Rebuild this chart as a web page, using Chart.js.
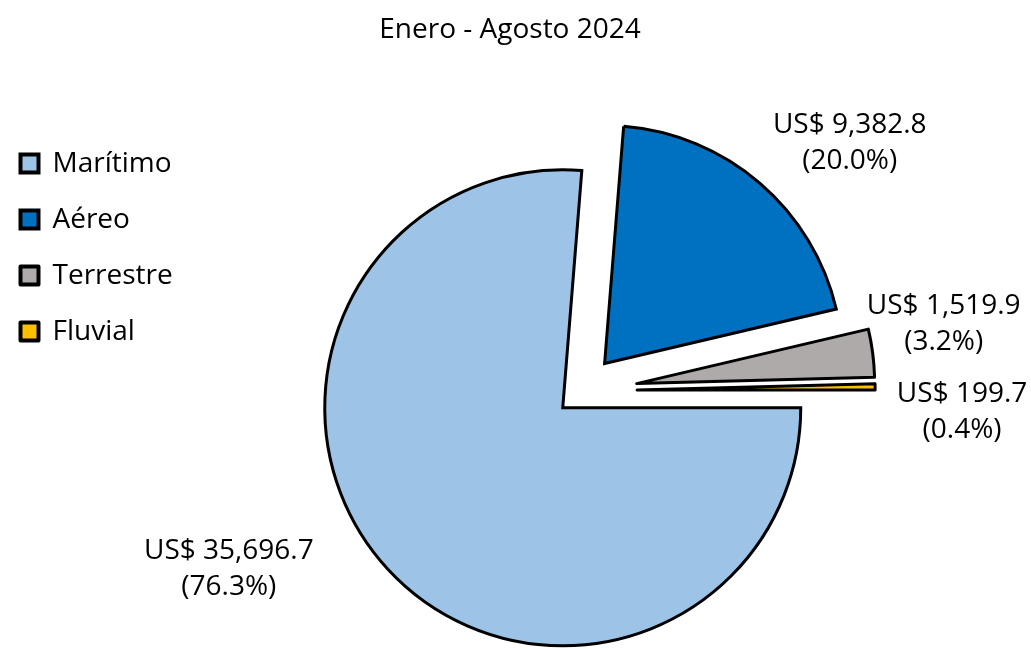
<!DOCTYPE html>
<html>
<head>
<meta charset="utf-8">
<script src="https://cdn.jsdelivr.net/npm/chart.js@4.4.1/dist/chart.umd.min.js"></script>
<style>
  html, body { margin: 0; padding: 0; background: #fff; }
  #marco { width: 1031px; height: 649px; overflow: hidden; }
  #wrap { width: 1031px; height: 660px; }
</style>
</head>
<body>
<div id="marco"><div id="wrap"><canvas id="pieChart"></canvas></div></div>
<script>
// datos (millones de US$), enero - agosto 2024
const modos = ['Marítimo', 'Aéreo', 'Terrestre', 'Fluvial'];
const valores = [35696.7, 9382.8, 1519.9, 199.7];
const colores = ['#9DC3E6', '#0070C0', '#AEAAAA', '#FFC000'];

// separación de cada porción (px) y ajuste de la etiqueta respecto al borde
const separacion = [25, 36, 56, 56];
const ajusteEtiqueta = [[-159, 0], [90, -40], [71, -29], [87, 25]];

const total = valores.reduce((a, b) => a + b, 0);

Chart.defaults.font.family = "'Open Sans', sans-serif";
Chart.defaults.color = '#000';

// mueve cada porción hacia afuera sin cambiar su radio
const explotar = {
    id: 'explotar',
    afterDatasetUpdate(chart, args) {
        args.meta.data.forEach((arc, i) => {
            const mid = (arc.startAngle + arc.endAngle) / 2;
            arc.x += Math.cos(mid) * separacion[i];
            arc.y += Math.sin(mid) * separacion[i];
        });
    }
};

// etiquetas "US$ valor (porcentaje)"
const etiquetas = {
    id: 'etiquetas',
    afterDatasetsDraw(chart) {
        const ctx = chart.ctx;
        const meta = chart.getDatasetMeta(0);
        ctx.save();
        ctx.font = "28px 'Open Sans', sans-serif";
        ctx.fillStyle = '#000';
        ctx.textAlign = 'center';
        ctx.textBaseline = 'middle';
        meta.data.forEach((arc, i) => {
            const mid = (arc.startAngle + arc.endAngle) / 2;
            const x = arc.x + Math.cos(mid) * arc.outerRadius + ajusteEtiqueta[i][0];
            const y = arc.y + Math.sin(mid) * arc.outerRadius + ajusteEtiqueta[i][1];
            const monto = 'US$ ' + valores[i].toLocaleString('en-US', {minimumFractionDigits: 1, maximumFractionDigits: 1});
            const pct = '(' + (valores[i] / total * 100).toFixed(1) + '%)';
            ctx.fillText(monto, x, y - 18);
            ctx.fillText(pct, x, y + 18);
        });
        ctx.restore();
    }
};

const etiquetasLeyenda = Chart.overrides.pie.plugins.legend.labels.generateLabels;

new Chart(document.getElementById('pieChart'), {
    type: 'pie',
    data: {
        labels: modos,
        datasets: [{
            data: valores,
            backgroundColor: colores,
            borderColor: '#000',
            borderWidth: 3,
            borderJoinStyle: ['miter', 'miter', 'round', 'round']
        }]
    },
    options: {
        responsive: true,
        maintainAspectRatio: false,
        animation: false,
        rotation: 90,
        radius: 238,
        layout: { padding: { top: 0, left: -7.5, right: 3.5, bottom: 0 } },
        plugins: {
            title: {
                display: true,
                text: 'Enero - Agosto 2024',
                font: { size: 28, weight: 'normal' },
                color: '#000',
                padding: { top: 13, bottom: 75 }
            },
            // espacio vacío a la derecha (solo para centrar el pastel)
            subtitle: {
                display: true,
                position: 'right',
                fullSize: false,
                text: ' ',
                font: { size: 10 },
                padding: 18
            },
            legend: {
                position: 'left',
                align: 'start',
                fullSize: false,
                labels: {
                    boxWidth: 18,
                    boxHeight: 18,
                    padding: 28,
                    font: { size: 28 },
                    color: '#000',
                    generateLabels(chart) {
                        return etiquetasLeyenda(chart).map(item => {
                            item.lineWidth = 4;
                            item.strokeStyle = '#000';
                            return item;
                        });
                    }
                }
            },
            tooltip: { enabled: false }
        }
    },
    plugins: [explotar, etiquetas]
});
</script>
</body>
</html>
